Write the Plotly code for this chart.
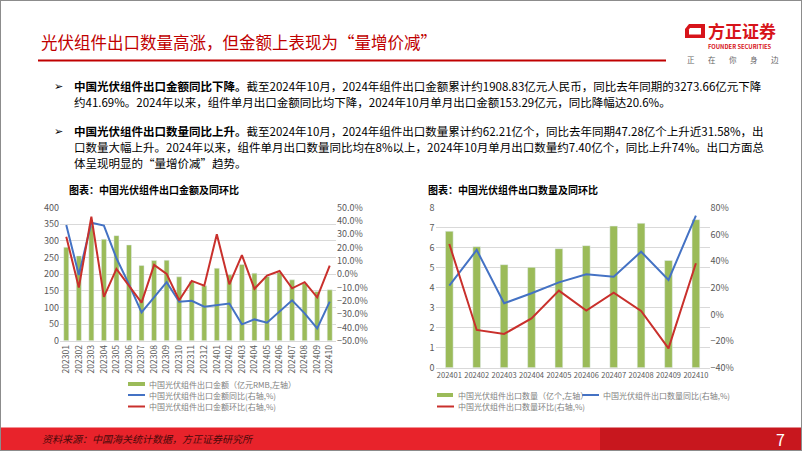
import plotly.graph_objects as go

# ---------------- data ----------------
months_left = ["202301", "202302", "202303", "202304", "202305", "202306", "202307",
               "202308", "202309", "202310", "202311", "202312", "202401", "202402",
               "202403", "202404", "202405", "202406", "202407", "202408", "202409", "202410"]
amount = [281, 255, 345, 305, 316, 288, 226, 241, 242, 192, 178, 165,
          218, 198, 229, 203, 193, 205, 183, 173, 148, 153]
amount_yoy = [37, -0.6, 38.7, 36.5, 12, -7.6, -28.7, -17, -6, -20.7, -20, -24.4,
              -23, -22, -37.7, -34, -36.5, -28, -19.6, -29.4, -40.7, -20.6]
amount_mom = [28.2, -10, 43.2, -17, 4, -8.6, -21.4, 7, 0.2, -19.6, -5, -8.6,
              30, -7.6, 14.4, -11, -1, 2.4, -10.6, -6, -17.4, 6.4]

months_right = ["202401", "202402", "202403", "202404", "202405",
                "202406", "202407", "202408", "202409", "202410"]
qty = [6.82, 6.05, 5.15, 5.02, 5.95, 6.10, 7.08, 7.22, 5.36, 7.40]
qty_yoy = [21.5, 48.3, 8.3, 15.8, 24, 30, 28.3, 47, 25.8, 74]
qty_mom = [52.8, -11.7, -14.7, -3, 17.8, 2.8, 16.3, 2.5, -25.5, 38.3]

left_ticks = [0, 50, 100, 150, 200, 250, 300, 350, 400]
right_legend = ["中国光伏组件出口数量（亿个,左轴）", "中国光伏组件出口数量同比(右轴,%)", "中国光伏组件出口数量环比(右轴,%)"]
left_legend = ["中国光伏组件出口金额（亿元RMB,左轴）", "中国光伏组件出口金额同比(右轴,%)", "中国光伏组件出口金额环比(右轴,%)"]
slogan_chars = ["正", "在", "你", "身", "边"]

# ---------------- style ----------------
W, H = 802, 451
FONT = "Noto Sans CJK SC"
GREEN = "#9BBB59"
BLUE = "#4472C4"
RED = "#C9302C"
GRID = "#D9D9D9"
TICK = "#595959"


def px(x):
    return x / W


def py(y):
    return 1 - y / H


fig = go.Figure()

# left chart
fig.add_trace(go.Bar(x=months_left, y=amount, marker_color=GREEN, width=0.4,
                     xaxis="x", yaxis="y", showlegend=False, name=left_legend[0]))
fig.add_trace(go.Scatter(x=months_left, y=amount_yoy, mode="lines", line=dict(color=BLUE, width=2),
                         xaxis="x", yaxis="y2", showlegend=False, name=left_legend[1]))
fig.add_trace(go.Scatter(x=months_left, y=amount_mom, mode="lines", line=dict(color=RED, width=2),
                         xaxis="x", yaxis="y2", showlegend=False, name=left_legend[2]))

# right chart
fig.add_trace(go.Bar(x=months_right, y=qty, marker_color=GREEN, width=0.28,
                     xaxis="x2", yaxis="y3", showlegend=False, name=right_legend[0]))
fig.add_trace(go.Scatter(x=months_right, y=qty_yoy, mode="lines", line=dict(color=BLUE, width=2),
                         xaxis="x2", yaxis="y4", showlegend=False, name=right_legend[1]))
fig.add_trace(go.Scatter(x=months_right, y=qty_mom, mode="lines", line=dict(color=RED, width=2),
                         xaxis="x2", yaxis="y4", showlegend=False, name=right_legend[2]))

tickfont = dict(family=FONT, size=9, color=TICK)

fig.update_layout(
    width=W, height=H,
    margin=dict(l=0, r=0, t=0, b=0),
    paper_bgcolor="white", plot_bgcolor="white",
    font=dict(family=FONT),
    xaxis=dict(domain=[px(60), px(336)], anchor="y", type="category", showgrid=False,
               showline=True, linecolor=GRID, linewidth=1, ticks="", tickangle=-90,
               tickfont=dict(family=FONT, size=8.5, color=TICK), automargin=False),
    yaxis=dict(domain=[py(340.7), py(207.7)], anchor="x", range=[0, 400], tickvals=left_ticks,
               showgrid=True, gridcolor=GRID, gridwidth=1, zeroline=False, ticks="",
               tickfont=tickfont, automargin=False),
    yaxis2=dict(overlaying="y", anchor="x", side="right", range=[-50, 50], dtick=10,
                tickformat=".1f", ticksuffix="%", showgrid=False, zeroline=False, ticks="",
                tickfont=tickfont, automargin=False),
    xaxis2=dict(domain=[px(435.6), px(709.6)], anchor="y3", type="category", showgrid=False,
                showline=True, linecolor=GRID, linewidth=1, ticks="", tickangle=0,
                tickfont=dict(family=FONT, size=7.5, color=TICK), automargin=False),
    yaxis3=dict(domain=[py(367.7), py(207.7)], anchor="x2", range=[0, 8], dtick=1,
                showgrid=True, gridcolor=GRID, gridwidth=1, zeroline=False, ticks="",
                tickfont=tickfont, automargin=False),
    yaxis4=dict(overlaying="y3", anchor="x2", side="right", range=[-40, 80], dtick=20,
                ticksuffix="%", showgrid=False, zeroline=False, ticks="",
                tickfont=tickfont, automargin=False),
)

shapes = []
annotations = []

# page border
shapes.append(dict(type="rect", xref="paper", yref="paper", x0=0, y0=0, x1=1, y1=1,
                   line=dict(color="#8C8C8C", width=2), layer="above"))
# title rule
shapes.append(dict(type="line", xref="paper", yref="paper", x0=px(38), x1=px(666),
                   y0=py(60.5), y1=py(60.5), line=dict(color="#C00000", width=2)))
# footer band
shapes.append(dict(type="rect", xref="paper", yref="paper", x0=0, x1=px(600), y0=0, y1=py(427.5),
                   fillcolor="#E8232B", line=dict(width=0), layer="below"))
shapes.append(dict(type="rect", xref="paper", yref="paper", x0=px(600), x1=1, y0=0, y1=py(427.5),
                   fillcolor="#C8171E", line=dict(width=0), layer="below"))


# logo icon
def path_px(points):
    return "M" + " L".join(f"{px(x):.5f},{py(y):.5f}" for x, y in points) + " Z"


shapes.append(dict(type="path", xref="paper", yref="paper",
                   path=path_px([(689, 24), (705, 24), (705, 38), (685, 38), (685, 29)]),
                   fillcolor="#D7141A", line=dict(width=0)))
shapes.append(dict(type="path", xref="paper", yref="paper",
                   path=path_px([(690, 28), (701, 28), (701, 34.5), (689, 34.5), (689, 29.5)]),
                   fillcolor="white", line=dict(width=0)))

annotations.append(dict(xref="paper", yref="paper", x=px(706), y=py(31), xanchor="left", yanchor="middle",
                        text="<b>方正证券</b>", showarrow=False,
                        font=dict(family=FONT, size=17, color="#D7141A")))
annotations.append(dict(xref="paper", yref="paper", x=px(706), y=py(46), xanchor="left", yanchor="middle",
                        text="<b>FOUNDER SECURITIES</b>", showarrow=False,
                        font=dict(family=FONT, size=5.8, color="#D7141A")))
for cx, ch in zip([691, 712, 733, 754, 775], slogan_chars):
    annotations.append(dict(xref="paper", yref="paper", x=px(cx), y=py(59), xanchor="center", yanchor="middle",
                            text=ch, showarrow=False,
                            font=dict(family=FONT, size=7.5, color="#666666")))

# title
annotations.append(dict(xref="paper", yref="paper", x=px(39), y=py(42), xanchor="left", yanchor="middle",
                        text="光伏组件出口数量高涨，但金额上表现为“量增价减”", showarrow=False,
                        font=dict(family=FONT, size=16.5, color="#C00000")))

# bullet text
body_lines = [
    (86, "<b>中国光伏组件出口金额同比下降。</b>截至2024年10月，2024年组件出口金额累计约1908.83亿元人民币，同比去年同期的3273.66亿元下降"),
    (102, "约41.69%。2024年以来，组件单月出口金额同比均下降，2024年10月单月出口金额153.29亿元，同比降幅达20.6%。"),
    (131, "<b>中国光伏组件出口数量同比上升。</b>截至2024年10月，2024年组件出口数量累计约62.21亿个，同比去年同期47.28亿个上升近31.58%，出"),
    (147, "口数量大幅上升。2024年以来，组件单月出口数量同比均在8%以上，2024年10月单月出口数量约7.40亿个，同比上升74%。出口方面总"),
    (163, "体呈现明显的“量增价减”趋势。"),
]
for y, t in body_lines:
    annotations.append(dict(xref="paper", yref="paper", x=px(72), y=py(y), xanchor="left", yanchor="middle",
                            text=t, showarrow=False, font=dict(family=FONT, size=11.5, color="#000000")))
for y in (86, 131):
    annotations.append(dict(xref="paper", yref="paper", x=px(52), y=py(y), xanchor="left", yanchor="middle",
                            text="➢", showarrow=False, font=dict(family="DejaVu Sans", size=11, color="#000000")))

# chart titles
annotations.append(dict(xref="paper", yref="paper", x=px(67), y=py(189), xanchor="left", yanchor="middle",
                        text="<b>图表：中国光伏组件出口金额及同环比</b>", showarrow=False,
                        font=dict(family=FONT, size=10, color="#000000")))
annotations.append(dict(xref="paper", yref="paper", x=px(426), y=py(189), xanchor="left", yanchor="middle",
                        text="<b>图表：中国光伏组件出口数量及同环比</b>", showarrow=False,
                        font=dict(family=FONT, size=10, color="#000000")))

# manual legends
legfont = dict(family=FONT, size=8, color="#7F7F7F")
# left
shapes.append(dict(type="rect", xref="paper", yref="paper", x0=px(128), x1=px(145), y0=py(386), y1=py(382),
                   fillcolor=GREEN, line=dict(width=0)))
shapes.append(dict(type="line", xref="paper", yref="paper", x0=px(128), x1=px(145), y0=py(395), y1=py(395),
                   line=dict(color=BLUE, width=2)))
shapes.append(dict(type="line", xref="paper", yref="paper", x0=px(128), x1=px(145), y0=py(406.5), y1=py(406.5),
                   line=dict(color=RED, width=2)))
for y, t in zip([384, 395, 406.5], left_legend):
    annotations.append(dict(xref="paper", yref="paper", x=px(147), y=py(y), xanchor="left", yanchor="middle",
                            text=t, showarrow=False, font=legfont))
# right
shapes.append(dict(type="rect", xref="paper", yref="paper", x0=px(437), x1=px(453), y0=py(397), y1=py(393),
                   fillcolor=GREEN, line=dict(width=0)))
shapes.append(dict(type="line", xref="paper", yref="paper", x0=px(582), x1=px(599), y0=py(395), y1=py(395),
                   line=dict(color=BLUE, width=2)))
shapes.append(dict(type="line", xref="paper", yref="paper", x0=px(437), x1=px(454), y0=py(406.5), y1=py(406.5),
                   line=dict(color=RED, width=2)))
for x, y, t in zip([456, 601, 456], [395, 395, 406.5], right_legend):
    annotations.append(dict(xref="paper", yref="paper", x=px(x), y=py(y), xanchor="left", yanchor="middle",
                            text=t, showarrow=False, font=legfont))

# footer
annotations.append(dict(xref="paper", yref="paper", x=px(40), y=py(438), xanchor="left", yanchor="middle",
                        text="<i>资料来源：中国海关统计数据，方正证券研究所</i>", showarrow=False,
                        font=dict(family=FONT, size=10, color="#4A0A0A")))
annotations.append(dict(xref="paper", yref="paper", x=px(780), y=py(439), xanchor="center", yanchor="middle",
                        text="7", showarrow=False, font=dict(family=FONT, size=16, color="white")))

fig.update_layout(shapes=shapes, annotations=annotations)

fig.write_html("out.html", config={"displayModeBar": False},
               post_script="document.body.style.margin='0';document.body.style.padding='0';")
